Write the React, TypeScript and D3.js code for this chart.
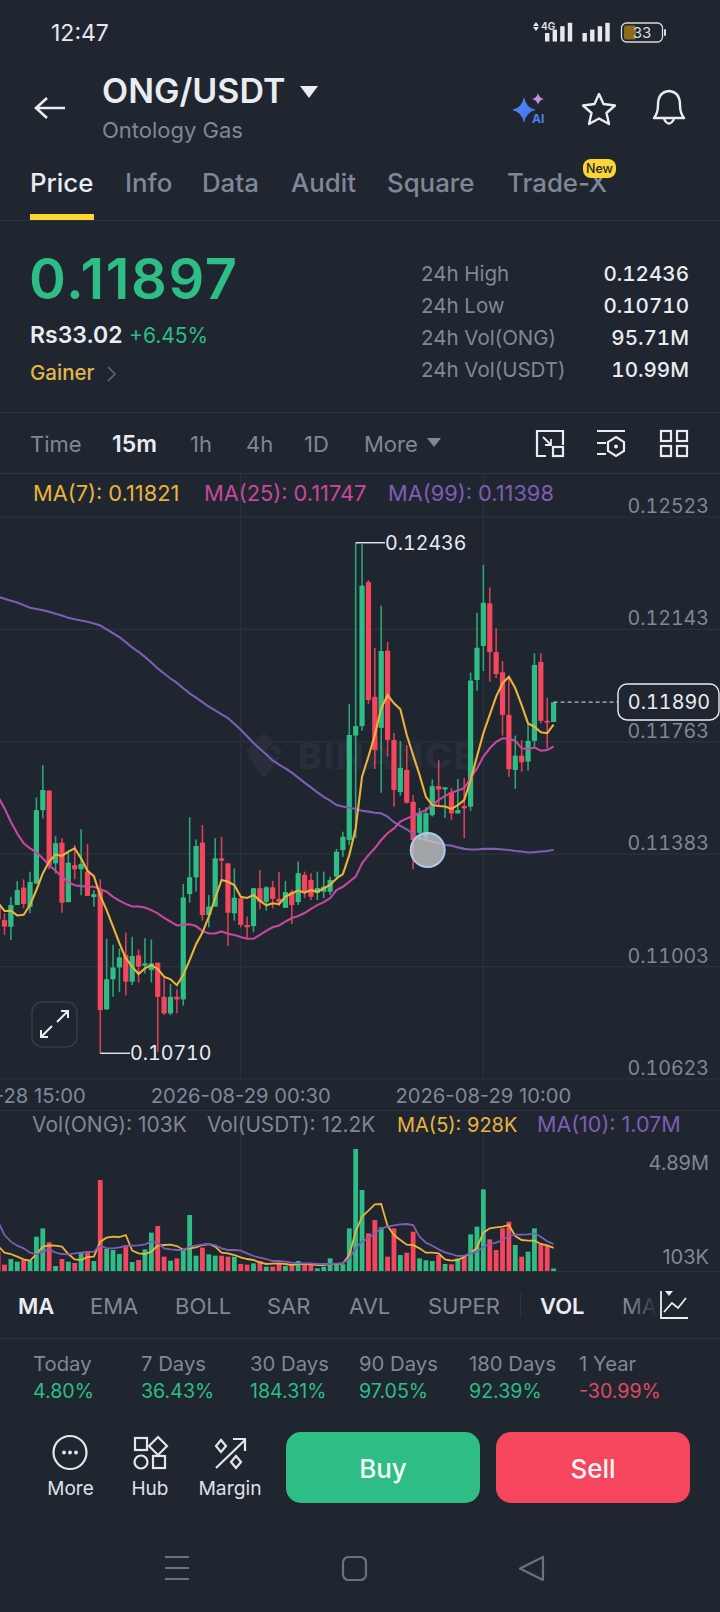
import React from 'react';
import * as d3 from 'd3';

// all prices are in units of 0.00001
const priceTicks = [12523, 12143, 11763, 11383, 11003, 10623];
const timeTicks = [
    { index: 0, label: '2026-08-28 15:00' },
    { index: 38, label: '2026-08-29 00:30' },
    { index: 76, label: '2026-08-29 10:00' },
];

const opens = [
    11205, 11160, 11138, 11211, 11270, 11205, 11284, 11532, 11598, 11352,
    11422, 11221, 11346, 11332, 11324, 11238, 11264, 10858, 10960, 11000,
    11042, 10952, 11041, 11006, 10991, 11016, 10901, 10845, 10901, 10892,
    11248, 11305, 11422, 11177, 11206, 11369, 11352, 11183, 11234, 11144,
    11140, 11268, 11222, 11271, 11232, 11202, 11255, 11221, 11313, 11296,
    11252, 11256, 11256, 11307, 11397, 11431, 11784, 11816, 12303, 11915,
    11810, 12071, 11769, 11593, 11668, 11560, 11455, 11442, 11515, 11613,
    11602, 11592, 11521, 11546, 11544, 11972, 12087, 12231, 12066, 11998,
    11854, 11668, 11716, 11696, 11766, 12033, 11834, 11830,
];
const highs = [
    11217, 11183, 11239, 11292, 11298, 11324, 11575, 11684, 11598, 11444,
    11437, 11392, 11414, 11467, 11417, 11262, 11298, 11097, 11077, 11064,
    11118, 11104, 11061, 11099, 11095, 11016, 10969, 10944, 10926, 11282,
    11508, 11433, 11482, 11245, 11437, 11442, 11352, 11335, 11234, 11172,
    11268, 11330, 11275, 11293, 11324, 11293, 11263, 11358, 11324, 11319,
    11324, 11324, 11307, 11401, 11459, 11891, 12436, 12431, 12310, 12080,
    12223, 12100, 11793, 11766, 11752, 11583, 11539, 11542, 11636, 11701,
    11609, 11607, 11637, 11640, 11997, 12199, 12361, 12285, 12147, 12036,
    11983, 11784, 11769, 11826, 12062, 12062, 11912, 11897,
];
const lows = [
    11158, 11110, 11093, 11211, 11200, 11183, 11282, 11504, 11332, 11318,
    11185, 11221, 11298, 11244, 11242, 11205, 10710, 10858, 10901, 10917,
    10905, 10941, 10949, 10980, 10949, 10714, 10839, 10839, 10845, 10871,
    11219, 11257, 11158, 11136, 11206, 11296, 11073, 11158, 11136, 11098,
    11119, 11197, 11192, 11200, 11208, 11201, 11147, 11211, 11235, 11228,
    11228, 11235, 11245, 11296, 11374, 11414, 11438, 11800, 11891, 11671,
    11591, 11713, 11544, 11581, 11554, 11332, 11431, 11431, 11510, 11544,
    11505, 11499, 11521, 11437, 11530, 11936, 12002, 11966, 11979, 11784,
    11645, 11604, 11662, 11665, 11746, 11826, 11741, 11830,
];
const closes = [
    11163, 11138, 11211, 11262, 11215, 11289, 11532, 11600, 11346, 11420,
    11219, 11354, 11332, 11350, 11242, 11248, 10856, 10960, 11000, 11034,
    10952, 11039, 11003, 11014, 11014, 10901, 10845, 10901, 10892, 11237,
    11305, 11411, 11177, 11206, 11369, 11361, 11185, 11236, 11144, 11136,
    11268, 11222, 11271, 11232, 11222, 11255, 11211, 11319, 11256, 11239,
    11269, 11273, 11296, 11391, 11442, 11786, 11816, 12291, 11904, 11735,
    12070, 11769, 11600, 11675, 11557, 11431, 11522, 11522, 11613, 11602,
    11609, 11521, 11532, 11538, 11970, 12081, 12233, 12066, 11992, 11854,
    11670, 11716, 11694, 11766, 12023, 11834, 11828, 11897,
];
const ma7 = [
    11219, 11191, 11192, 11176, 11178, 11211, 11262, 11318, 11358, 11382,
    11377, 11392, 11403, 11369, 11327, 11309, 11242, 11194, 11138, 11082,
    11031, 11003, 10978, 10997, 11008, 10995, 10969, 10960, 10940, 10975,
    11025, 11079, 11118, 11172, 11234, 11296, 11290, 11279, 11239, 11235,
    11245, 11226, 11210, 11217, 11214, 11239, 11251, 11260, 11253, 11262,
    11256, 11268, 11279, 11301, 11316, 11380, 11470, 11645, 11713, 11786,
    11876, 11921, 11893, 11873, 11786, 11718, 11651, 11577, 11549, 11546,
    11544, 11536, 11549, 11566, 11634, 11713, 11792, 11854, 11916, 11961,
    11983, 11944, 11887, 11825, 11814, 11795, 11792, 11821,
];
const ma25 = [
    11577, 11538, 11493, 11453, 11420, 11403, 11389, 11369, 11346, 11327,
    11307, 11288, 11278, 11275, 11273, 11273, 11265, 11256, 11239, 11226,
    11215, 11206, 11206, 11203, 11194, 11183, 11168, 11155, 11142, 11145,
    11146, 11140, 11123, 11115, 11115, 11122, 11114, 11110, 11103, 11097,
    11097, 11110, 11124, 11136, 11142, 11155, 11167, 11174, 11184, 11198,
    11211, 11221, 11234, 11262, 11273, 11290, 11307, 11352, 11380, 11403,
    11431, 11454, 11470, 11493, 11504, 11512, 11523, 11532, 11549, 11566,
    11580, 11591, 11598, 11606, 11640, 11673, 11713, 11741, 11763, 11775,
    11772, 11767, 11741, 11738, 11744, 11733, 11735, 11747,
];
const ma99 = [
    12253, 12247, 12240, 12234, 12225, 12216, 12212, 12208, 12203, 12196,
    12190, 12182, 12177, 12173, 12169, 12163, 12156, 12143, 12130, 12117,
    12100, 12082, 12067, 12050, 12031, 12011, 11994, 11977, 11962, 11944,
    11927, 11912, 11897, 11882, 11869, 11856, 11843, 11824, 11804, 11782,
    11759, 11739, 11720, 11700, 11686, 11673, 11659, 11642, 11625, 11609,
    11592, 11577, 11564, 11549, 11544, 11540, 11536, 11530, 11527, 11523,
    11521, 11510, 11491, 11479, 11467, 11453, 11437, 11431, 11425, 11420,
    11414, 11412, 11406, 11401, 11399, 11399, 11401, 11401, 11401, 11399,
    11397, 11394, 11392, 11389, 11390, 11392, 11394, 11398,
];

// volumes in thousands
const volumes = [
    775, 254, 481, 374, 441, 414, 1376, 1710, 1149, 200,
    481, 374, 321, 762, 775, 401, 3647, 882, 842, 681,
    1042, 361, 441, 868, 1536, 1804, 574, 414, 508, 842,
    2244, 615, 935, 668, 615, 615, 574, 574, 281, 254,
    307, 401, 174, 174, 307, 200, 200, 401, 240, 254,
    107, 174, 508, 240, 267, 1710, 4890, 3246, 1510, 2044,
    1750, 574, 1710, 641, 735, 1576, 508, 427, 401, 641,
    281, 267, 508, 574, 1470, 1777, 3273, 1269, 842, 1710,
    1977, 1042, 574, 775, 1710, 1082, 1042, 103,
];
const volMa5 = [
    1002, 735, 681, 574, 468, 414, 681, 975, 1029, 1015,
    975, 681, 468, 441, 561, 574, 1176, 1336, 1376, 1363,
    1443, 815, 708, 681, 775, 1015, 1042, 1055, 1002, 855,
    908, 949, 1042, 1082, 975, 735, 708, 641, 548, 481,
    441, 347, 281, 294, 307, 281, 240, 281, 281, 267,
    240, 240, 281, 281, 307, 641, 1576, 2178, 2418, 2672,
    2685, 1804, 1443, 1242, 1055, 1042, 908, 735, 735, 708,
    468, 414, 441, 574, 708, 935, 1536, 1710, 1750, 1777,
    1844, 1403, 1242, 1216, 1216, 1082, 1029, 928,
];
const volMa10 = [
    1977, 1443, 1176, 1015, 908, 735, 681, 775, 868, 735,
    681, 668, 708, 735, 762, 775, 1015, 908, 908, 949,
    1002, 1015, 1029, 1069, 1176, 1136, 908, 868, 842, 842,
    975, 1015, 1055, 1082, 1029, 908, 842, 842, 815, 708,
    601, 534, 481, 401, 401, 374, 334, 307, 307, 307,
    281, 281, 281, 294, 307, 508, 908, 1176, 1309, 1510,
    1710, 1777, 1830, 1870, 1884, 1844, 1376, 1136, 1015, 868,
    748, 681, 601, 615, 708, 775, 975, 1082, 1136, 1242,
    1403, 1456, 1456, 1470, 1510, 1376, 1189, 1070,
];

const tabs = [
    { label: 'Price', x: 30 }, { label: 'Info', x: 125 }, { label: 'Data', x: 202 },
    { label: 'Audit', x: 291 }, { label: 'Square', x: 387 }, { label: 'Trade-X', x: 507 },
];
const stats = [
    { label: '24h High', value: '0.12436', y: 281 },
    { label: '24h Low', value: '0.10710', y: 313 },
    { label: '24h Vol(ONG)', value: '95.71M', y: 345 },
    { label: '24h Vol(USDT)', value: '10.99M', y: 377 },
];
const intervals = [
    { label: 'Time', x: 30 }, { label: '15m', x: 112, active: true }, { label: '1h', x: 190 },
    { label: '4h', x: 246 }, { label: '1D', x: 304 }, { label: 'More', x: 364 },
];
const indicators = [
    { label: 'MA', x: 18, active: true }, { label: 'EMA', x: 90 }, { label: 'BOLL', x: 175 },
    { label: 'SAR', x: 267 }, { label: 'AVL', x: 349 }, { label: 'SUPER', x: 428 },
    { label: 'VOL', x: 540, active: true },
];
const periods = [
    { label: 'Today', value: '4.80%', x: 33 }, { label: '7 Days', value: '36.43%', x: 141 },
    { label: '30 Days', value: '184.31%', x: 250 }, { label: '90 Days', value: '97.05%', x: 359 },
    { label: '180 Days', value: '92.39%', x: 469 }, { label: '1 Year', value: '-30.99%', x: 579 },
];

const BG = '#1f2630';
const GRID = '#2b323e';
const GREEN = '#2ebd85';
const RED = '#f6465d';
const GRAY = '#7f8897';
const YELLOW = '#e9b43c';
const PINK = '#c9479f';
const PURPLE = '#7e5db5';
const FONT = 'Inter, sans-serif';
const TNUM = { fontVariantNumeric: 'tabular-nums' };

const x = d3.scaleLinear().domain([0, 87]).range([-1.9, 553.6]);
const y = d3.scaleLinear().domain([10623, 12523]).range([1079, 517]);
const yVol = d3.scaleLinear().domain([0, 4890]).range([1271, 1149]);

const priceLine = d3.line<number>().x((_, i) => x(i)).y(d => y(d));
const volLine = d3.line<number>().x((_, i) => x(i)).y(d => yVol(d));

function Candles() {
    return (
        <g>
            {closes.map((c, i) => {
                const up = c >= opens[i];
                const color = up ? GREEN : RED;
                const top = y(Math.max(c, opens[i]));
                const h = Math.max(1.5, y(Math.min(c, opens[i])) - top);
                return (
                    <g key={i}>
                        <line x1={x(i)} x2={x(i)} y1={y(highs[i])} y2={y(lows[i])} stroke={color} strokeWidth={1.6} opacity={0.85} />
                        <rect x={x(i) - 2.6} width={5.2} y={top} height={h} fill={color} />
                    </g>
                );
            })}
        </g>
    );
}

function Volumes() {
    return (
        <g>
            {volumes.map((v, i) => (
                <rect key={i} x={x(i) - 2.4} width={4.8} y={yVol(v)} height={yVol(0) - yVol(v)}
                    fill={closes[i] >= opens[i] ? GREEN : RED} />
            ))}
        </g>
    );
}

export default function App() {
    const lastY = y(closes[closes.length - 1]);
    return (
        <div style={{ position: 'fixed', left: 0, top: 0, width: 720, height: 1612, background: BG, overflow: 'hidden' }}>
            <svg width={720} height={1612} viewBox="0 0 720 1612" style={{ display: 'block' }} fontFamily={FONT}>
                <defs>
                    <linearGradient id="fade" x1="0" x2="1" y1="0" y2="0">
                        <stop offset="0" stopColor={BG} stopOpacity={0} />
                        <stop offset="1" stopColor={BG} />
                    </linearGradient>
                    <linearGradient id="aiStar" x1="0" x2="1" y1="0" y2="1">
                        <stop offset="0" stopColor="#5a8cff" />
                        <stop offset="1" stopColor="#3f6be8" />
                    </linearGradient>
                </defs>

                {/* status bar */}
                <text x={51} y={41} fontSize={23} fill="#e6e8ec">12:47</text>
                <path d="M533 26l3-4 3 4zM533 27l3 4 3-4z" fill="#e6e8ec" />
                <text x={541} y={30} fontSize={10} fontWeight={600} fill="#e6e8ec">4G</text>
                {[0, 1, 2, 3].map(i => (
                    <g key={i} fill="#e6e8ec">
                        <rect x={545 + i * 7.6} y={33 - i * 3.4} width={4.4} height={8.5 + i * 3.4} />
                        <rect x={582.5 + i * 7.6} y={33 - i * 3.4} width={4.4} height={8.5 + i * 3.4} />
                    </g>
                ))}
                <rect x={621.5} y={23} width={41} height={19} rx={5} fill="none" stroke="#d8dade" strokeWidth={1.3} />
                <rect x={624} y={25.5} width={12} height={14} rx={2} fill="#8d6c1c" />
                <rect x={664} y={29} width={2} height={7} rx={1} fill="#d8dade" />
                <text x={642} y={38} fontSize={15} textAnchor="middle" fill="#d8dade">33</text>

                {/* header */}
                <path d="M65 108H37M47 98L36 108L47 118" fill="none" stroke="#eaecef" strokeWidth={2.6} />
                <text x={102} y={103} fontSize={34} fontWeight={600} fill="#eaecef">ONG/USDT</text>
                <path d="M300 86H318L309 98Z" fill="#eaecef" />
                <text x={102} y={138} fontSize={22} fill={GRAY}>Ontology Gas</text>
                <path d="M524 97Q526 108 536 110Q526 112 524 123Q522 112 512 110Q522 108 524 97Z" fill="url(#aiStar)" />
                <path d="M538 93Q539 98 544 99Q539 100 538 105Q537 100 532 99Q537 98 538 93Z" fill="#c68fe0" />
                <text x={532} y={123} fontSize={12} fontWeight={700} fill="#4f7ff0">AI</text>
                <path d="M599 94L603.5 104L615 105.5L606.5 113L609 124L599 118.5L589 124L591.5 113L583 105.5L594.5 104Z"
                    fill="none" stroke="#eaecef" strokeWidth={2.4} strokeLinejoin="round" />
                <path d="M654 118Q658 113 658 105Q658 92 669 91Q680 92 680 105Q680 113 684 118Z" fill="none" stroke="#eaecef" strokeWidth={2.4} strokeLinejoin="round" />
                <path d="M664 119Q669 128 674 119" fill="none" stroke="#eaecef" strokeWidth={2.4} />

                {/* tabs */}
                {tabs.map((t, i) => (
                    <text key={t.label} x={t.x} y={192} fontSize={25.8} fontWeight={500} fill={i === 0 ? '#eaecef' : GRAY}>{t.label}</text>
                ))}
                <rect x={30} y={214} width={64} height={6} fill="#fcd535" />
                <rect x={583} y={159} width={33} height={19} rx={8} fill="#fcd535" />
                <text x={599.5} y={173} fontSize={12.5} fontWeight={500} textAnchor="middle" fill="#1f2630">New</text>
                <line x1={0} x2={720} y1={220.5} y2={220.5} stroke={GRID} strokeWidth={1.2} />

                {/* price summary */}
                <text x={29} y={299} fontSize={56} fontWeight={600} letterSpacing={1.6} fill={GREEN}>0.11897</text>
                <text x={30} y={343} fontSize={23} fontWeight={600} fill="#eaecef">Rs33.02</text>
                <text x={129} y={343} fontSize={21} fill={GREEN}>+6.45%</text>
                <text x={30} y={380} fontSize={20.5} fontWeight={500} fill="#e3b54c">Gainer</text>
                <path d="M108 367L115 374L108 381" fill="none" stroke="#5f6775" strokeWidth={1.6} />
                {stats.map(s => (
                    <g key={s.label}>
                        <text x={421} y={s.y} fontSize={20.5} fill={GRAY}>{s.label}</text>
                        <text x={689} y={s.y} fontSize={20.6} fontWeight={500} textAnchor="end" fill="#eaecef" style={TNUM}>{s.value}</text>
                    </g>
                ))}
                <line x1={0} x2={720} y1={412.5} y2={412.5} stroke={GRID} strokeWidth={1.2} />

                {/* interval row */}
                {intervals.map(t => (
                    <text key={t.label} x={t.x} y={452} fontSize={t.active ? 23 : 22} fontWeight={t.active ? 600 : 400} fill={t.active ? '#eaecef' : GRAY}>{t.label}</text>
                ))}
                <path d="M427 438H441L434 447Z" fill={GRAY} />
                <g fill="none" stroke="#eaecef" strokeWidth={2.2}>
                    <path d="M546 431H563V445M546 431H537V456H546" />
                    <rect x={553} y={447} width={10} height={9} />
                    <path d="M543 437L551 445M551 439V445H545" strokeWidth={1.8} />
                    <path d="M597 431H625M597 443H606M597 454H606" />
                    <path d="M616 437L624 442V451L616 456L608 451V442Z" />
                    <rect x={661} y={431} width={10} height={10} />
                    <rect x={677} y={431} width={10} height={10} />
                    <rect x={661} y={446} width={10} height={10} />
                    <rect x={677} y={446} width={10} height={10} />
                </g>
                <circle cx={616} cy={446.5} r={2} fill="#eaecef" />
                <line x1={0} x2={720} y1={473.5} y2={473.5} stroke={GRID} strokeWidth={1.6} />

                {/* grid */}
                {priceTicks.map(t => (
                    <line key={t} x1={0} x2={720} y1={y(t)} y2={y(t)} stroke={GRID} strokeWidth={1.2} />
                ))}
                {timeTicks.map(t => (
                    <line key={t.index} x1={x(t.index)} x2={x(t.index)} y1={473} y2={1079} stroke={GRID} strokeWidth={1.2} />
                ))}

                {/* watermark */}
                <g fill="#282f3b">
                    <path d="M264 733L274 743L264 753L254 743ZM246 751L253 744L260 751L253 758ZM282 751L275 744L268 751L275 758ZM264 757L272 749L280 757L264 779L248 757L256 749Z" />
                    <text x={298} y={769} fontSize={36} fontWeight={800} letterSpacing={2}>BINANCE</text>
                </g>

                {/* legend */}
                <text x={33} y={501} fontSize={21.8} fill={YELLOW}>MA(7): 0.11821</text>
                <text x={204} y={501} fontSize={21.8} fill={PINK}>MA(25): 0.11747</text>
                <text x={388} y={501} fontSize={21.8} fill={PURPLE}>MA(99): 0.11398</text>

                {/* candles + moving averages */}
                <Candles />
                <path d={priceLine(ma99) as string} fill="none" stroke={PURPLE} strokeWidth={2.1} />
                <path d={priceLine(ma25) as string} fill="none" stroke={PINK} strokeWidth={2.1} />
                <path d={priceLine(ma7) as string} fill="none" stroke={YELLOW} strokeWidth={2.1} />

                {/* price axis */}
                {priceTicks.map(t => (
                    <text key={t} x={709} y={y(t) - 4} fontSize={19.6} textAnchor="end" fill={GRAY} style={TNUM}>{(t / 1e5).toFixed(5)}</text>
                ))}

                {/* high / low markers */}
                <line x1={x(56)} x2={385} y1={y(12436)} y2={y(12436)} stroke="#eaecef" strokeWidth={1.4} />
                <text x={385} y={y(12436) + 7} fontSize={19.6} fill="#eaecef" style={TNUM}>0.12436</text>
                <line x1={x(16)} x2={130} y1={y(10710)} y2={y(10710)} stroke="#eaecef" strokeWidth={1.4} />
                <text x={130} y={y(10710) + 7} fontSize={19.6} fill="#eaecef" style={TNUM}>0.10710</text>

                {/* last price */}
                <line x1={x(87)} x2={618} y1={lastY} y2={lastY} stroke="#b8bdc6" strokeWidth={1.2} strokeDasharray="4 3" />
                <rect x={618} y={684} width={101} height={36} rx={9} fill={BG} stroke="#eaecef" strokeWidth={1.4} />
                <text x={669} y={709} fontSize={19.8} textAnchor="middle" fill="#eaecef" style={TNUM}>0.11890</text>

                {/* touch marker */}
                <circle cx={427.7} cy={850} r={17} fill="#c8c8c8" fillOpacity={0.78} stroke="#a9c8ee" strokeWidth={2} />

                {/* expand */}
                <rect x={32} y={1002} width={45} height={45} rx={10} fill="none" stroke="#353c49" strokeWidth={1.5} />
                <path d="M41 1037L52 1026M41 1030V1037H48M68 1011L57 1022M61 1011H68V1018" fill="none" stroke="#eaecef" strokeWidth={2} />

                {/* time axis */}
                <line x1={0} x2={720} y1={1110.5} y2={1110.5} stroke={GRID} strokeWidth={1.2} />
                {timeTicks.map(t => (
                    <text key={t.index} x={x(t.index)} y={1103} fontSize={20.2} textAnchor="middle" fill={GRAY}>{t.label}</text>
                ))}

                {/* volume pane */}
                {timeTicks.map(t => (
                    <line key={t.index} x1={x(t.index)} x2={x(t.index)} y1={1110} y2={1271} stroke={GRID} strokeWidth={1.2} />
                ))}
                <text x={32} y={1132} fontSize={21} fill={GRAY}>Vol(ONG): 103K</text>
                <text x={207} y={1132} fontSize={20.8} fill={GRAY}>Vol(USDT): 12.2K</text>
                <text x={397} y={1132} fontSize={20} fill={YELLOW}>MA(5): 928K</text>
                <text x={537} y={1132} fontSize={21.5} fill={PURPLE}>MA(10): 1.07M</text>
                <Volumes />
                <path d={volLine(volMa5) as string} fill="none" stroke={YELLOW} strokeWidth={1.8} />
                <path d={volLine(volMa10) as string} fill="none" stroke={PURPLE} strokeWidth={1.8} />
                <text x={709} y={1170} fontSize={20} textAnchor="end" fill={GRAY}>4.89M</text>
                <text x={709} y={1264} fontSize={20} textAnchor="end" fill={GRAY}>103K</text>
                <line x1={0} x2={720} y1={1271.5} y2={1271.5} stroke={GRID} strokeWidth={1.2} />

                {/* indicator row */}
                {indicators.map(t => (
                    <text key={t.label} x={t.x} y={1314} fontSize={22} fontWeight={t.active ? 600 : 400} fill={t.active ? '#eaecef' : GRAY}>{t.label}</text>
                ))}
                <line x1={520.5} x2={520.5} y1={1293} y2={1317} stroke={GRID} strokeWidth={1.2} />
                <text x={622} y={1314} fontSize={22} fill={GRAY}>MAVOL</text>
                <rect x={630} y={1285} width={28} height={36} fill="url(#fade)" />
                <rect x={658} y={1285} width={62} height={36} fill={BG} />
                <path d="M661 1291V1318H688M664 1312L672 1303L678 1308L686 1298" fill="none" stroke="#eaecef" strokeWidth={1.8} />
                <path d="M665 1291H673L669 1296Z" fill="#eaecef" />
                <line x1={0} x2={720} y1={1338.5} y2={1338.5} stroke={GRID} strokeWidth={1.2} />

                {/* period performance */}
                {periods.map(p => (
                    <g key={p.label}>
                        <text x={p.x} y={1371} fontSize={20.3} fill={GRAY}>{p.label}</text>
                        <text x={p.x} y={1398} fontSize={19.6} fill={p.value.startsWith('-') ? '#e04a5f' : GREEN}>{p.value}</text>
                    </g>
                ))}

                {/* bottom actions */}
                <g fill="none" stroke="#e4e6ea" strokeWidth={2.2}>
                    <circle cx={70} cy={1452.5} r={16.5} />
                    <rect x={135} y={1438} width={12} height={12} />
                    <path d="M158 1437L167 1446L158 1455L149 1446Z" />
                    <circle cx={141} cy={1462} r={6.5} />
                    <rect x={153} y={1456} width={12} height={12} />
                    <path d="M216 1468L245 1440M233 1439H245V1451" />
                    <path d="M221 1440L226 1446L221 1452L216 1446Z" />
                    <path d="M236 1456L241 1462L236 1468L231 1462Z" />
                </g>
                <g fill="#e4e6ea">
                    <circle cx={64} cy={1452.5} r={1.9} />
                    <circle cx={70} cy={1452.5} r={1.9} />
                    <circle cx={76} cy={1452.5} r={1.9} />
                </g>
                <text x={70.5} y={1495} fontSize={19} textAnchor="middle" fill="#dfe2e7">More</text>
                <text x={150} y={1495} fontSize={19} textAnchor="middle" fill="#dfe2e7">Hub</text>
                <text x={230} y={1495} fontSize={19.3} textAnchor="middle" fill="#dfe2e7">Margin</text>
                <rect x={286} y={1432} width={194} height={71} rx={15} fill={GREEN} />
                <rect x={496} y={1432} width={194} height={71} rx={15} fill={RED} />
                <text x={383} y={1478} fontSize={26} fontWeight={500} textAnchor="middle" fill="#f6fbf8">Buy</text>
                <text x={593} y={1478} fontSize={26} fontWeight={500} textAnchor="middle" fill="#fff5f6">Sell</text>

                {/* navigation bar */}
                <g fill="none" stroke="#6a7280" strokeWidth={2.2}>
                    <path d="M165 1557H189M165 1568H189M165 1579H189" />
                    <rect x={343} y={1557} width={23} height={23} rx={5.5} />
                    <path d="M543 1557V1580L520 1568.5Z" strokeLinejoin="round" />
                </g>
            </svg>
        </div>
    );
}
